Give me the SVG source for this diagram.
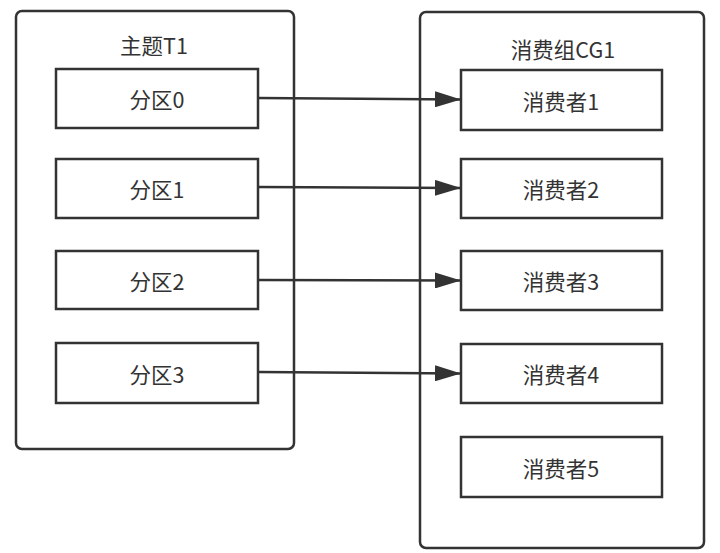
<svg xmlns="http://www.w3.org/2000/svg" width="720" height="553" viewBox="0 0 720 553">
<defs>
<style>
.c{fill:#fff;stroke:#333;stroke-width:2.5}
.b{fill:#fff;stroke:#333;stroke-width:2.5}
.t{font-family:"Noto Sans CJK SC","Noto Sans",sans-serif;font-size:21.5px;fill:#333;text-anchor:middle;dominant-baseline:central}
</style>
<marker id="a2" viewBox="0 0 26 16" refX="26" refY="8" markerWidth="26" markerHeight="16" markerUnits="userSpaceOnUse" orient="auto">
<path d="M0,0 L26,8 L0,16 L0,0 Z" fill="#333"/>
</marker>
</defs>
<rect width="720" height="553" fill="#fff"/>
<g id="topic">
<rect class="c" x="16" y="11" width="278" height="438" rx="6"/>
<text class="t" x="154" y="44">主题T1</text>
</g>
<g id="group">
<rect class="c" x="420" y="12" width="284" height="536" rx="6"/>
<text class="t" x="563" y="48">消费组CG1</text>
</g>
<g id="p0"><rect class="b" x="56" y="69" width="202" height="59"/><text class="t" x="157" y="98.5">分区0</text></g>
<g id="p1"><rect class="b" x="56" y="159" width="202" height="59"/><text class="t" x="157" y="188.5">分区1</text></g>
<g id="p2"><rect class="b" x="56" y="251" width="202" height="58"/><text class="t" x="157" y="280">分区2</text></g>
<g id="p3"><rect class="b" x="56" y="343" width="202" height="60"/><text class="t" x="157" y="373">分区3</text></g>
<g id="c1"><rect class="b" x="461" y="70" width="201" height="60"/><text class="t" x="561" y="100">消费者1</text></g>
<g id="c2"><rect class="b" x="461" y="159" width="201" height="59"/><text class="t" x="561" y="188.5">消费者2</text></g>
<g id="c3"><rect class="b" x="461" y="251" width="201" height="59"/><text class="t" x="561" y="280.5">消费者3</text></g>
<g id="c4"><rect class="b" x="461" y="344" width="201" height="59"/><text class="t" x="561" y="373.5">消费者4</text></g>
<g id="c5"><rect class="b" x="461" y="437" width="201" height="60"/><text class="t" x="561" y="467">消费者5</text></g>
<g id="edges" stroke="#333" stroke-width="2.5" fill="none">
<path d="M258,98 L461,99.5" marker-end="url(#a2)"/>
<path d="M258,187 L461,188" marker-end="url(#a2)"/>
<path d="M258,280 L461,280.5" marker-end="url(#a2)"/>
<path d="M258,372 L461,373.5" marker-end="url(#a2)"/>
</g>
</svg>
